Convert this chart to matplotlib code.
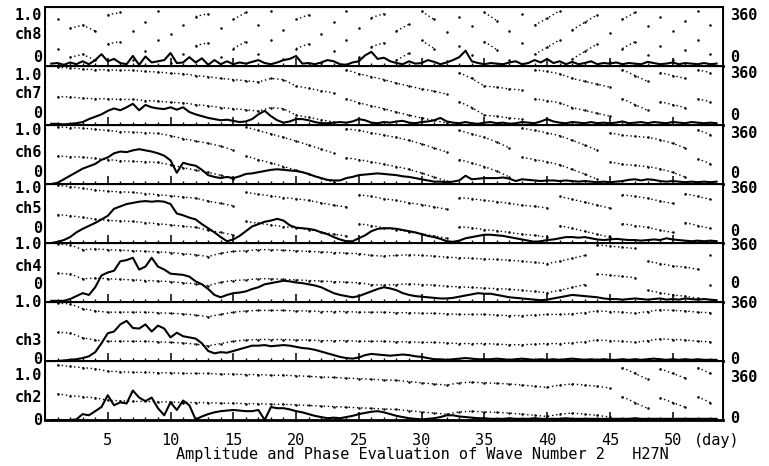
import numpy as np
import matplotlib
matplotlib.use("Agg")
import matplotlib.pyplot as plt

# channel names, top panel first
channels = ["ch8", "ch7", "ch6", "ch5", "ch4", "ch3", "ch2"]

# amplitude, sampled every half day from day 0.5 to 53.5
amp_days = np.arange(0.5, 54.0, 0.5)
amp_ch8 = [0.04, 0.05, 0.02, 0.06, 0.03, 0.08, 0.03, 0.10, 0.20, 0.08,
           0.12, 0.05, 0.03, 0.17, 0.02, 0.16, 0.06, 0.08, 0.10, 0.22,
           0.05, 0.06, 0.15, 0.06, 0.13, 0.02, 0.10, 0.03, 0.08, 0.03,
           0.06, 0.04, 0.07, 0.10, 0.05, 0.03, 0.06, 0.10, 0.12, 0.17,
           0.04, 0.05, 0.03, 0.06, 0.10, 0.08, 0.03, 0.02, 0.06, 0.08,
           0.18, 0.24, 0.12, 0.14, 0.08, 0.05, 0.03, 0.08, 0.04, 0.05,
           0.10, 0.07, 0.03, 0.06, 0.10, 0.15, 0.26, 0.08, 0.05, 0.03,
           0.05, 0.04, 0.03, 0.06, 0.08, 0.03, 0.05, 0.10, 0.06, 0.12,
           0.05, 0.08, 0.03, 0.07, 0.03, 0.05, 0.08, 0.03, 0.05, 0.04,
           0.06, 0.03, 0.05, 0.04, 0.03, 0.07, 0.05, 0.03, 0.04, 0.06,
           0.03, 0.05, 0.04, 0.03, 0.05, 0.03, 0.04]
amp_ch7 = [0.02, 0.02, 0.01, 0.02, 0.03, 0.05, 0.10, 0.14, 0.18, 0.24,
           0.28, 0.25, 0.30, 0.36, 0.25, 0.34, 0.30, 0.28, 0.27, 0.30,
           0.26, 0.30, 0.22, 0.18, 0.15, 0.12, 0.10, 0.08, 0.09, 0.07,
           0.05, 0.06, 0.10, 0.18, 0.24, 0.15, 0.08, 0.04, 0.06, 0.10,
           0.10, 0.08, 0.05, 0.03, 0.03, 0.04, 0.05, 0.04, 0.06, 0.10,
           0.08, 0.04, 0.03, 0.05, 0.04, 0.06, 0.07, 0.04, 0.03, 0.05,
           0.06, 0.08, 0.12, 0.06, 0.04, 0.03, 0.05, 0.03, 0.02, 0.04,
           0.05, 0.03, 0.04, 0.02, 0.03, 0.05, 0.04, 0.03, 0.06, 0.10,
           0.06, 0.04, 0.03, 0.05, 0.04, 0.03, 0.05, 0.03, 0.04, 0.03,
           0.04, 0.06, 0.03, 0.04, 0.05, 0.03, 0.05, 0.04, 0.03, 0.05,
           0.04, 0.03, 0.05, 0.04, 0.03, 0.04, 0.03]
amp_ch6 = [0.00, 0.02, 0.08, 0.14, 0.20, 0.26, 0.30, 0.34, 0.41, 0.45,
           0.52, 0.55, 0.54, 0.57, 0.59, 0.57, 0.55, 0.52, 0.48, 0.40,
           0.19, 0.36, 0.33, 0.31, 0.24, 0.15, 0.12, 0.10, 0.12, 0.10,
           0.13, 0.17, 0.18, 0.20, 0.22, 0.24, 0.25, 0.24, 0.23, 0.22,
           0.20, 0.17, 0.13, 0.10, 0.07, 0.06, 0.06, 0.10, 0.12, 0.15,
           0.16, 0.17, 0.18, 0.17, 0.16, 0.15, 0.13, 0.12, 0.10, 0.08,
           0.06, 0.04, 0.04, 0.03, 0.04, 0.06, 0.14, 0.08, 0.09, 0.10,
           0.10, 0.10, 0.11, 0.09, 0.05, 0.08, 0.07, 0.06, 0.05, 0.06,
           0.06, 0.05, 0.06, 0.05, 0.04, 0.05, 0.04, 0.03, 0.04, 0.03,
           0.04, 0.05, 0.07, 0.08, 0.06, 0.08, 0.07, 0.05, 0.04, 0.05,
           0.04, 0.03, 0.04, 0.03, 0.04, 0.03, 0.04]
amp_ch5 = [0.00, 0.02, 0.05, 0.10, 0.18, 0.24, 0.29, 0.34, 0.40, 0.46,
           0.58, 0.62, 0.66, 0.68, 0.70, 0.71, 0.70, 0.71, 0.70, 0.66,
           0.50, 0.47, 0.43, 0.40, 0.32, 0.25, 0.18, 0.10, 0.03, 0.06,
           0.12, 0.20, 0.28, 0.32, 0.36, 0.38, 0.41, 0.38, 0.30, 0.26,
           0.25, 0.24, 0.22, 0.18, 0.15, 0.10, 0.06, 0.03, 0.03, 0.08,
           0.13, 0.20, 0.24, 0.25, 0.25, 0.24, 0.22, 0.20, 0.18, 0.15,
           0.12, 0.10, 0.07, 0.03, 0.02, 0.04, 0.08, 0.10, 0.12, 0.14,
           0.14, 0.13, 0.12, 0.10, 0.08, 0.06, 0.04, 0.02, 0.03, 0.05,
           0.06, 0.08, 0.10, 0.10, 0.09, 0.10, 0.08, 0.06, 0.05, 0.06,
           0.07, 0.06, 0.05, 0.05, 0.04, 0.05, 0.06, 0.05, 0.08, 0.06,
           0.05, 0.04, 0.03, 0.04, 0.03, 0.04, 0.03]
amp_ch4 = [0.02, 0.02, 0.02, 0.05, 0.10, 0.15, 0.12, 0.25, 0.45, 0.50,
           0.53, 0.69, 0.71, 0.75, 0.55, 0.60, 0.75, 0.60, 0.55, 0.48,
           0.47, 0.46, 0.43, 0.35, 0.30, 0.22, 0.12, 0.08, 0.12, 0.15,
           0.16, 0.18, 0.22, 0.25, 0.30, 0.32, 0.34, 0.36, 0.35, 0.33,
           0.32, 0.30, 0.28, 0.25, 0.20, 0.15, 0.12, 0.10, 0.08, 0.10,
           0.14, 0.18, 0.22, 0.25, 0.23, 0.20, 0.15, 0.12, 0.10, 0.09,
           0.08, 0.07, 0.06, 0.06, 0.07, 0.09, 0.11, 0.13, 0.15, 0.14,
           0.14, 0.12, 0.10, 0.08, 0.07, 0.06, 0.05, 0.04, 0.03, 0.04,
           0.06, 0.08, 0.10, 0.12, 0.11, 0.10, 0.09, 0.08, 0.06, 0.05,
           0.05, 0.04, 0.05, 0.06, 0.05, 0.04, 0.05, 0.06, 0.04, 0.05,
           0.04, 0.06, 0.05, 0.04, 0.05, 0.04, 0.03]
amp_ch3 = [0.00, 0.00, 0.01, 0.02, 0.03, 0.05, 0.08, 0.15, 0.30, 0.47,
           0.50, 0.62, 0.68, 0.56, 0.55, 0.62, 0.50, 0.60, 0.55, 0.40,
           0.48, 0.42, 0.40, 0.38, 0.30, 0.17, 0.13, 0.15, 0.14, 0.17,
           0.20, 0.23, 0.26, 0.26, 0.27, 0.25, 0.26, 0.27, 0.26, 0.24,
           0.22, 0.21, 0.19, 0.16, 0.13, 0.10, 0.07, 0.05, 0.04, 0.06,
           0.10, 0.12, 0.11, 0.10, 0.09, 0.10, 0.11, 0.10, 0.08, 0.07,
           0.05, 0.03, 0.03, 0.02, 0.03, 0.04, 0.05, 0.04, 0.03, 0.03,
           0.03, 0.04, 0.03, 0.02, 0.03, 0.04, 0.03, 0.02, 0.03, 0.02,
           0.03, 0.02, 0.03, 0.04, 0.03, 0.02, 0.03, 0.02, 0.03, 0.02,
           0.02, 0.03, 0.02, 0.03, 0.02, 0.03, 0.04, 0.03, 0.02, 0.03,
           0.02, 0.03, 0.02, 0.03, 0.02, 0.02, 0.02]
amp_ch2 = [0.00, 0.00, 0.00, 0.00, 0.01, 0.10, 0.08, 0.15, 0.22, 0.42,
           0.25, 0.30, 0.28, 0.50, 0.38, 0.32, 0.38, 0.20, 0.08, 0.30,
           0.17, 0.33, 0.25, 0.01, 0.06, 0.10, 0.13, 0.15, 0.16, 0.17,
           0.16, 0.15, 0.15, 0.17, 0.00, 0.22, 0.20, 0.20, 0.18, 0.15,
           0.13, 0.10, 0.07, 0.05, 0.03, 0.04, 0.03, 0.05, 0.07, 0.10,
           0.12, 0.14, 0.15, 0.13, 0.10, 0.07, 0.05, 0.03, 0.02, 0.01,
           0.02, 0.03, 0.05, 0.08, 0.08, 0.06, 0.05, 0.04, 0.03, 0.03,
           0.02, 0.02, 0.02, 0.03, 0.02, 0.02, 0.02, 0.03, 0.02, 0.02,
           0.02, 0.02, 0.03, 0.02, 0.02, 0.02, 0.02, 0.02, 0.02, 0.02,
           0.02, 0.02, 0.02, 0.03, 0.02, 0.02, 0.02, 0.02, 0.02, 0.02,
           0.02, 0.02, 0.02, 0.02, 0.02, 0.02, 0.02]

# phase (deg, folded into 0..180), one value per day 1..53
phase_days = np.arange(1, 54)
ph_ch8 = [108, 54, 72, 36, 137, 151, 36, 90, 162, 18,
          72, 126, 144, 54, 108, 151, 72, 162, 43, 108,
          137, 18, 90, 162, 54, 119, 144, 36, 79, 158,
          108, 29, 126, 65, 151, 101, 36, 144, 72, 115,
          162, 43, 90, 137, 22, 108, 151, 65, 126, 36,
          101, 162, 72]
ph_ch7 = [176, 173, 166, 162, 162, 158, 158, 151, 148, 140,
          137, 126, 119, 108, 101, 94, 86, 108, 101, 61,
          47, 32, 18, 162, 137, 119, 101, 79, 61, 43,
          29, 11, 144, 108, 61, 54, 43, 36, 162, 151,
          137, 108, 90, 72, 54, 162, 126, 90, 144, 126,
          108, 162, 144]
ph_ch6 = [173, 169, 166, 158, 151, 144, 140, 137, 133, 119,
          101, 86, 72, 54, 29, 173, 151, 130, 108, 86,
          61, 36, 11, 162, 151, 137, 122, 108, 90, 68,
          43, 18, 151, 130, 108, 79, 43, 166, 151, 137,
          119, 90, 61, 29, 137, 122, 115, 108, 94, 72,
          43, 155, 126]
ph_ch5 = [176, 169, 158, 148, 140, 137, 133, 126, 119, 112,
          104, 97, 79, 65, 50, 133, 122, 112, 101, 94,
          83, 68, 54, 43, 119, 108, 94, 83, 68, 58,
          43, 29, 101, 94, 83, 76, 65, 54, 47, 36,
          108, 90, 72, 54, 36, 119, 108, 97, 79, 65,
          126, 108, 90]
ph_ch4 = [178, 173, 144, 148, 144, 140, 137, 133, 130, 126,
          119, 112, 101, 122, 133, 137, 144, 144, 140, 137,
          133, 130, 126, 122, 119, 108, 104, 108, 112, 108,
          104, 97, 94, 90, 86, 83, 79, 72, 65, 58,
          72, 90, 108, 173, 166, 158, 151, 72, 58, 43,
          36, 22, 108]
ph_ch3 = [178, 173, 144, 130, 122, 122, 122, 122, 119, 115,
          112, 104, 94, 108, 122, 130, 133, 133, 133, 130,
          130, 126, 126, 126, 122, 122, 122, 119, 119, 115,
          115, 112, 108, 108, 108, 104, 101, 101, 104, 108,
          108, 112, 119, 130, 126, 122, 115, 126, 137, 133,
          130, 122, 119]
ph_ch2 = [162, 151, 144, 137, 122, 119, 115, 115, 112, 112,
          108, 108, 108, 104, 104, 101, 101, 97, 97, 94,
          90, 86, 83, 79, 76, 72, 68, 65, 58, 50,
          43, 36, 50, 54, 50, 47, 43, 36, 29, 22,
          36, 43, 36, 29, 18, 144, 108, 72, 137, 108,
          79, 144, 108]

amps = [amp_ch8, amp_ch7, amp_ch6, amp_ch5, amp_ch4, amp_ch3, amp_ch2]
phases = [ph_ch8, ph_ch7, ph_ch6, ph_ch5, ph_ch4, ph_ch3, ph_ch2]
xticks = [5, 10, 15, 20, 25, 30, 35, 40, 45, 50]

# where the hand-lettered labels sit in each panel (axes fraction)
left_pos = [(0.86, 0.53, 0.14), (0.84, 0.53, 0.19), (0.90, 0.53, 0.19),
            (0.92, 0.58, 0.24), (0.97, 0.61, 0.30), (1.00, 0.34, 0.03),
            (0.75, 0.38, 0.00)]
right_pos = [(0.86, 0.14), (0.88, 0.16), (0.86, 0.17), (0.92, 0.20),
             (0.95, 0.32), (0.98, 0.03), (0.72, 0.03)]

FONT = "DejaVu Sans Mono"
FS = 11


def broken(x, y, jump=50):
    # break the dotted curve where the folded phase wraps or jumps
    xs, ys = [x[0]], [y[0]]
    for i in range(1, len(x)):
        if abs(y[i] - y[i - 1]) > jump:
            xs.append(np.nan)
            ys.append(np.nan)
        xs.append(x[i])
        ys.append(y[i])
    return xs, ys


fig, axes = plt.subplots(7, 1, sharex=True, figsize=(7.69, 4.66), dpi=100,
                         gridspec_kw=dict(hspace=0))
fig.subplots_adjust(left=0.0585, right=0.940, top=0.985, bottom=0.0987)

for i, ax in enumerate(axes):
    ax.plot(amp_days, amps[i], color="black", lw=1.5, zorder=3)
    ax.set_ylim(0, 1.0)
    ax.set_xlim(0, 54)
    ax.set_yticks([])
    for s in ax.spines.values():
        s.set_linewidth(1.4)
    ax.spines["bottom"].set_linewidth(2.0)

    ax2 = ax.twinx()
    ph = np.array(phases[i], dtype=float)
    for y in (ph, ph + 180):
        xs, ys = broken(phase_days, y)
        ax2.plot(xs, ys, color="black", lw=1.0, ls=(0, (1, 2)))
        ax2.plot(phase_days, y, ".", color="black", ms=1.6)
    ax2.set_ylim(0, 365)
    ax2.set_yticks([])

    ax.set_xticks(xticks)
    ax.set_xticks(range(1, 54), minor=True)
    ax.tick_params(axis="x", which="major", direction="in", length=6,
                   width=1.1, top=False, pad=9, labelsize=FS)
    ax.tick_params(axis="x", which="minor", direction="in", length=2.5,
                   width=1.0, top=False)
    for lab in ax.get_xticklabels():
        lab.set_fontfamily(FONT)

    t1, tc, t0 = left_pos[i]
    for txt, yy in (("1.0", t1), (channels[i], tc), ("0", t0)):
        ax.text(-0.004, yy, txt, transform=ax.transAxes, ha="right",
                va="center", family=FONT, weight="bold", fontsize=FS)
    r1, r0 = right_pos[i]
    ax.text(1.01, r1, "360", transform=ax.transAxes, ha="left",
            va="center", family=FONT, weight="bold", fontsize=FS)
    ax.text(1.01, r0, "0", transform=ax.transAxes, ha="left",
            va="center", family=FONT, weight="bold", fontsize=FS)

for ax in axes[:-1]:
    ax.tick_params(axis="x", labelbottom=False)

fig.text(717 / 769, 1 - 440 / 466, "(day)", ha="center", va="center",
         family=FONT, fontsize=FS)
fig.text(422 / 769, 1 - 455 / 466,
         "Amplitude and Phase Evaluation of Wave Number 2   H27N",
         ha="center", va="center", family=FONT, fontsize=FS)

fig.savefig("out.png", dpi=100)
